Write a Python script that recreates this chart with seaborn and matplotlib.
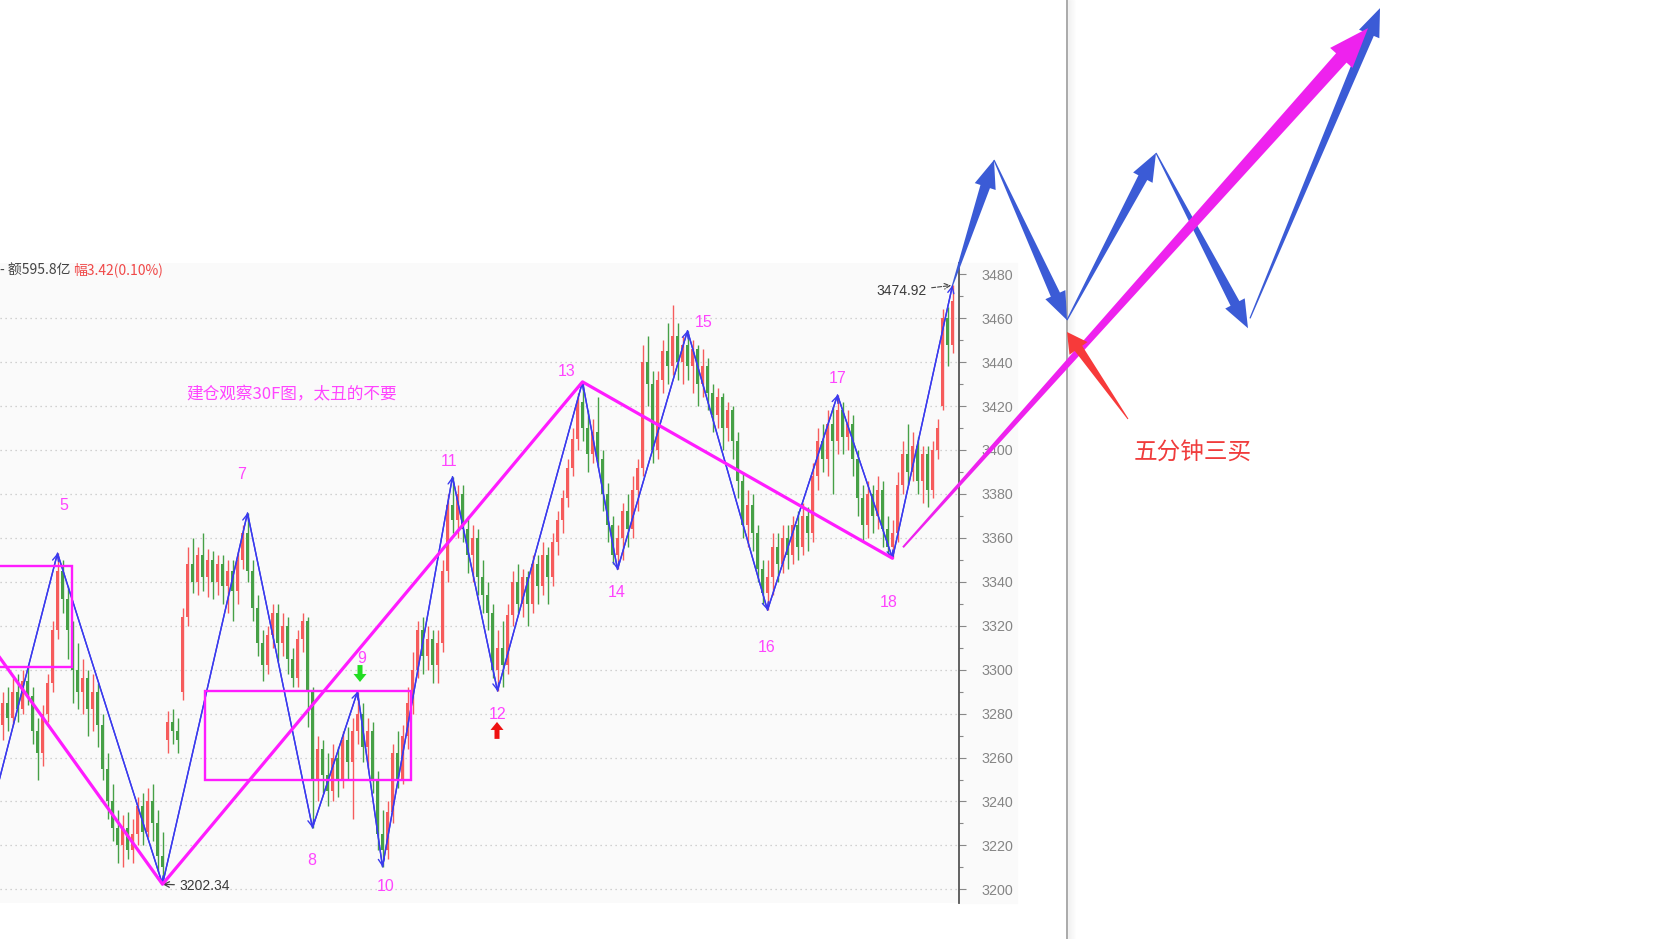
import numpy as np
import pandas as pd
import matplotlib
matplotlib.use('Agg')
import matplotlib.pyplot as plt
import seaborn as sns
from matplotlib.patches import Polygon, Rectangle
from matplotlib.lines import Line2D
from matplotlib.transforms import IdentityTransform

# ── colours ───────────────────────────────────────────────────────────────────
RED     = '#f65c5c'
GREEN   = '#46a046'
BLUE    = '#3a3aee'
BIGBLUE = '#3b5bd6'
MAGENTA = '#ff1cff'
PINK    = '#ff44ff'
GRIDC   = '#c4c4c4'
PANEL   = '#fafafa'
CJK     = ['Noto Sans CJK SC', 'DejaVu Sans']
NUMF    = ['Liberation Sans', 'DejaVu Sans']

# ── candle data (30F bars) ────────────────────────────────────────────────────
opens = [3275, 3285, 3278, 3290, 3282, 3295, 3288, 3272, 3262, 3280, 3294, 3318,
         3345, 3332, 3318, 3300, 3290, 3296, 3282, 3290, 3275, 3255, 3240, 3228, 3220, 3228, 3218, 3225, 3238, 3226, 3240, 3230, 3215,
         3268, 3276, 3272, 3290, 3324, 3348, 3340, 3352, 3342, 3350, 3340, 3348, 3338, 3345, 3336, 3350, 3362,
         3345, 3328, 3312, 3302, 3316, 3326, 3312, 3320, 3305, 3296, 3314, 3322, 3290,
         3250, 3264, 3252, 3245, 3260, 3250, 3268, 3258, 3272, 3280, 3265, 3272, 3250, 3225,
         3218, 3235, 3262, 3250, 3270, 3285, 3300, 3318, 3306, 3314, 3302, 3312, 3345, 3375,
         3368, 3380, 3364, 3352, 3360, 3342, 3334, 3326, 3300,
         3310, 3302, 3325, 3340, 3330, 3342, 3330, 3348, 3338, 3352, 3342, 3358, 3368, 3378, 3392, 3405, 3422,
         3410, 3398, 3408, 3396, 3380, 3366, 3352,
         3360, 3372, 3364, 3382, 3392, 3440, 3430, 3400, 3432, 3445, 3438, 3452, 3440, 3448,
         3438, 3446, 3430, 3438, 3426, 3416, 3424, 3410, 3418, 3404, 3386, 3366, 3375, 3362, 3346, 3335,
         3342, 3356, 3348, 3360, 3352, 3366, 3356, 3370, 3362, 3388, 3404, 3396, 3412, 3404,
         3418, 3406, 3412, 3396, 3378, 3366, 3380, 3370, 3382, 3364, 3356,
         3362, 3384, 3398, 3390, 3402, 3386, 3398, 3382, 3400, 3420, 3460, 3448]
closes = [3285, 3278, 3290, 3282, 3295, 3288, 3272, 3262, 3280, 3294, 3318, 3345,
          3332, 3318, 3300, 3290, 3296, 3282, 3290, 3275, 3255, 3240, 3228, 3220, 3228, 3218, 3225, 3238, 3226, 3240, 3230, 3215, 3210,
          3276, 3272, 3268, 3324, 3348, 3340, 3352, 3342, 3350, 3340, 3348, 3338, 3345, 3336, 3350, 3362, 3345,
          3328, 3312, 3302, 3316, 3326, 3312, 3320, 3305, 3296, 3314, 3322, 3290, 3250,
          3264, 3252, 3245, 3260, 3250, 3268, 3258, 3272, 3280, 3265, 3272, 3250, 3225, 3218,
          3235, 3262, 3250, 3270, 3285, 3300, 3318, 3306, 3314, 3302, 3312, 3345, 3375, 3368,
          3380, 3364, 3352, 3360, 3342, 3334, 3326, 3300, 3310,
          3302, 3325, 3340, 3330, 3342, 3330, 3348, 3338, 3352, 3342, 3358, 3368, 3378, 3392, 3405, 3422, 3410,
          3398, 3408, 3396, 3380, 3366, 3352, 3360,
          3372, 3364, 3382, 3392, 3440, 3430, 3400, 3432, 3445, 3438, 3452, 3440, 3448, 3438,
          3446, 3430, 3438, 3426, 3416, 3424, 3410, 3418, 3404, 3386, 3366, 3375, 3362, 3346, 3335, 3342,
          3356, 3348, 3360, 3352, 3366, 3356, 3370, 3362, 3388, 3404, 3396, 3412, 3404, 3418,
          3406, 3412, 3396, 3378, 3366, 3380, 3370, 3382, 3364, 3356, 3362,
          3384, 3398, 3390, 3402, 3386, 3398, 3382, 3400, 3410, 3460, 3448, 3468]
highs = [3290, 3292, 3296, 3298, 3300, 3302, 3292, 3278, 3284, 3298, 3322, 3353,
         3350, 3338, 3322, 3312, 3305, 3300, 3298, 3294, 3280, 3262, 3248, 3236, 3234, 3235, 3232, 3242, 3244, 3246, 3248, 3236, 3226,
         3281, 3282, 3278, 3328, 3356, 3360, 3356, 3362, 3355, 3354, 3352, 3352, 3350, 3350, 3354, 3366, 3371.3,
         3350, 3334, 3318, 3320, 3330, 3330, 3326, 3324, 3310, 3318, 3326, 3324, 3292,
         3270, 3268, 3262, 3266, 3265, 3272, 3274, 3278, 3290, 3285, 3278, 3276, 3254, 3236,
         3240, 3266, 3272, 3275, 3292, 3308, 3322, 3324, 3320, 3318, 3318, 3350, 3380, 3387.8,
         3384, 3384, 3370, 3366, 3364, 3350, 3340, 3330, 3318,
         3322, 3330, 3345, 3348, 3346, 3345, 3352, 3352, 3358, 3356, 3362, 3372, 3382, 3396, 3410, 3426, 3431,
         3418, 3414, 3424, 3400, 3385, 3370, 3366,
         3376, 3380, 3388, 3396, 3448, 3452, 3436, 3436, 3450, 3458, 3466, 3458, 3452, 3454.3,
         3450, 3448, 3446, 3442, 3430, 3428, 3426, 3422, 3420, 3408, 3390, 3382, 3380, 3366, 3350, 3350,
         3362, 3362, 3366, 3366, 3370, 3372, 3376, 3374, 3394, 3410, 3412, 3418, 3420, 3425,
         3422, 3418, 3416, 3400, 3384, 3386, 3384, 3388, 3386, 3370, 3368,
         3390, 3404, 3412, 3408, 3406, 3402, 3402, 3404, 3414, 3464, 3465, 3474.92]
lows = [3268, 3272, 3275, 3276, 3280, 3284, 3266, 3250, 3256, 3276, 3290, 3314,
        3326, 3305, 3285, 3282, 3280, 3270, 3272, 3265, 3250, 3232, 3222, 3212, 3210, 3214, 3212, 3220, 3220, 3224, 3222, 3208, 3202.34,
        3262, 3266, 3262, 3286, 3320, 3335, 3334, 3336, 3333, 3332, 3334, 3330, 3326, 3322, 3330, 3346, 3340,
        3322, 3306, 3295, 3298, 3310, 3304, 3306, 3298, 3292, 3292, 3308, 3274, 3228,
        3240, 3244, 3238, 3240, 3242, 3246, 3250, 3232, 3266, 3258, 3255, 3244, 3218, 3210.3,
        3214, 3230, 3246, 3248, 3264, 3280, 3296, 3298, 3300, 3294, 3294, 3308, 3340, 3362,
        3360, 3358, 3344, 3340, 3334, 3326, 3318, 3296, 3290.3,
        3292, 3298, 3320, 3326, 3324, 3320, 3326, 3330, 3334, 3330, 3338, 3352, 3362, 3374, 3388, 3400, 3404,
        3390, 3394, 3392, 3372, 3358, 3348, 3345.6,
        3350, 3356, 3360, 3372, 3388, 3420, 3394, 3396, 3426, 3430, 3434, 3432, 3430, 3432,
        3426, 3420, 3424, 3418, 3408, 3410, 3400, 3404, 3396, 3378, 3360, 3356, 3354, 3340, 3330, 3327.1,
        3334, 3340, 3344, 3346, 3348, 3350, 3352, 3354, 3358, 3382, 3390, 3388, 3380, 3398,
        3398, 3400, 3388, 3370, 3358, 3360, 3362, 3364, 3356, 3352, 3350.7,
        3358, 3380, 3384, 3386, 3380, 3376, 3374, 3378, 3396, 3418, 3438, 3444]

# ── drawn analysis (bar index, price) ─────────────────────────────────────────
zz_idx   = [-3, 11, 32, 49, 62, 71, 76, 90, 99, 116, 123, 137, 153, 167, 178, 190]
zz_price = [3229, 3353, 3202.34, 3371.3, 3228, 3290, 3210.3, 3387.8, 3290.3,
            3431, 3345.6, 3454.3, 3327.1, 3425, 3350.7, 3474.92]
trend_idx   = [-5, 32, 116, 178]
trend_price = [3319.6, 3202.34, 3431, 3350.7]
boxes = [(-5, 13.9, 3301, 3347), (40.5, 81.6, 3250, 3290.4)]   # x0, x1, y0, y1

label_text  = ['5', '7', '8', '9', '10', '11', '12', '13', '14', '15', '16', '17', '18']
label_idx   = [12.3, 47.9, 61.9, 71.9, 76.7, 89.3, 99.1, 112.9, 122.9, 140.3, 152.9, 167.1, 177.3]
label_price = [3374.9, 3389, 3213.3, 3305.3, 3201.1, 3394.9, 3279.4, 3435.9, 3334.9,
               3457.8, 3310.3, 3432.7, 3330.8]

# projected moves to the right of the chart: (tail_idx, tail_price, tip_idx, tip_price)
blue_moves = [(190, 3474.92, 198.3, 3532.0),
              (198.3, 3532.0, 212.9, 3459.1),
              (212.9, 3459.1, 230.7, 3535.2),
              (230.7, 3535.2, 249.1, 3455.4),
              (249.5, 3459.9, 275.5, 3601.1)]
magenta_move = (180.1, 3355.7, 273.1, 3592.0)
red_pointer  = (225.1, 3414.1, 212.9, 3453.7)
divider_idx  = 212.9

grid_levels = list(range(3200, 3461, 20))
major_ticks = list(range(3200, 3481, 20))
minor_ticks = list(range(3210, 3481, 20))

# ── figure ────────────────────────────────────────────────────────────────────
sns.set_style('white')
plt.rcParams['font.family'] = CJK

W, H = 1673, 939
fig = plt.figure(figsize=(W / 100, H / 100), dpi=100)
fig.patch.set_facecolor('white')
ax = fig.add_axes([0, 36 / H, 959 / W, 640 / H])
ax.set_xlim(-0.5, 191.3)
ax.set_ylim(3193.8, 3485.1)
ax.set_facecolor(PANEL)
fig.add_artist(Rectangle((959 / W, 36 / H), 58 / W, 640 / H, transform=fig.transFigure,
                         color=PANEL, zorder=-1))

for s in ['left', 'top', 'bottom']:
    ax.spines[s].set_visible(False)
ax.spines['right'].set_color('#555555')
ax.spines['right'].set_linewidth(1.3)
ax.set_xticks([])
ax.yaxis.tick_right()
ax.set_yticks(major_ticks)
ax.set_yticks(minor_ticks, minor=True)
ax.tick_params(axis='y', which='major', length=5, width=0.8, color='#888888',
               labelcolor='#858585', labelsize=10.3, pad=11, right=True, left=False)
ax.tick_params(axis='y', which='minor', length=3, width=0.8, color='#888888', right=True, left=False)
for t in ax.get_yticklabels():
    t.set_family(NUMF)

ax.hlines(grid_levels, -0.5, 191.3, colors=GRIDC, linestyles=(0, (1, 3)), lw=0.9, zorder=1)

# candles
df = pd.DataFrame({'o': opens, 'h': highs, 'l': lows, 'c': closes})
df['i'] = np.arange(len(df))
cols = np.where(df.c >= df.o, RED, GREEN)
ax.vlines(df.i, df.l, df.h, colors=cols, lw=1.0, zorder=2)
ax.bar(df.i, (df.c - df.o).abs(), bottom=np.minimum(df.o, df.c), width=0.55,
       color=cols, linewidth=0, zorder=2)

# stroke zigzag
sns.lineplot(x=zz_idx, y=zz_price, sort=False, estimator=None, color=BLUE, lw=1.0,
             ax=ax, zorder=3)
for k in range(1, len(zz_idx)):
    ax.annotate('', xy=(zz_idx[k], zz_price[k]), xytext=(zz_idx[k - 1], zz_price[k - 1]),
                arrowprops=dict(arrowstyle='->,head_length=0.45,head_width=0.22', color=BLUE,
                                lw=1.0, shrinkA=0, shrinkB=0), zorder=3)

# segment lines + centre boxes
sns.lineplot(x=trend_idx, y=trend_price, sort=False, estimator=None, color=MAGENTA, lw=2.3,
             ax=ax, zorder=4)
for x0, x1, y0, y1 in boxes:
    ax.add_patch(Rectangle((x0, y0), x1 - x0, y1 - y0, fill=False, ec=MAGENTA, lw=1.7, zorder=4))

for t, xi, yp in zip(label_text, label_idx, label_price):
    ax.text(xi, yp, t, color=PINK, fontsize=11.5, family=NUMF, ha='center', va='center', zorder=5)

ax.text(57.9, 3425, '建仓观察30F图，太丑的不要', color=PINK, fontsize=12, ha='center', va='center')
ax.text(0, 0.989, '- 额595.8亿', transform=ax.transAxes, color='#444444', fontsize=10,
        ha='left', va='center')
ax.text(73 / 959, 0.989, '幅3.42(0.10%)', transform=ax.transAxes, color='#f04848', fontsize=10,
        ha='left', va='center')
ax.annotate('3202.34', xy=(32, 3202.34), xytext=(35.3, 3201.6), ha='left', va='center',
            color='#3a3a3a', fontsize=10, family=NUMF,
            arrowprops=dict(arrowstyle='->', color='#444444', lw=0.9, shrinkA=1, shrinkB=0))
ax.annotate('3474.92', xy=(190, 3474.92), xytext=(184.9, 3472.3), ha='right', va='center',
            color='#3a3a3a', fontsize=10, family=NUMF,
            arrowprops=dict(arrowstyle='->', ls='--', color='#444444', lw=0.8, shrinkA=1, shrinkB=1))


def taper(p0, p1, w0, w1, hl, hw, color, z=6):
    a = np.array(ax.transData.transform(p0))
    b = np.array(ax.transData.transform(p1))
    u = (b - a) / np.hypot(*(b - a))
    n = np.array([-u[1], u[0]])
    base = b - u * hl
    pts = [a + n * w0 / 2, base + n * w1 / 2, base + n * hw / 2, b,
           base - n * hw / 2, base - n * w1 / 2, a - n * w0 / 2]
    fig.add_artist(Polygon(pts, closed=True, transform=IdentityTransform(), color=color,
                           lw=0, zorder=z))


# small buy/sell marks
taper((71.5, 3302.1), (71.5, 3294.4), 5, 5, 8, 13, '#22dd22')
taper((98.9, 3268.5), (98.9, 3276.2), 5, 5, 8, 13, '#ee1111')

# divider of the screenshot with soft shadow
xd = ax.transData.transform((divider_idx, 3300))[0]
for k in range(1, 9):
    fig.add_artist(Line2D([xd + k, xd + k], [0, H], transform=IdentityTransform(),
                          color='black', alpha=0.045 * (1 - k / 9), lw=1, zorder=5))
fig.add_artist(Line2D([xd, xd], [0, H], transform=IdentityTransform(), color='#a4a4a4',
                      lw=1.3, zorder=5))

# projected path
for tx, ty, hx, hy in blue_moves:
    taper((tx, ty), (hx, hy), 1.2, 10, 28, 22, BIGBLUE)
taper(magenta_move[:2], magenta_move[2:], 2, 14, 40, 30, '#ee22ee', z=7)
taper(red_pointer[:2], red_pointer[2:], 1, 9, 20, 22, '#f73a3a', z=7)
ax.text(238.1, 3399, '五分钟三买', color='#f03c3c', fontsize=17, ha='center', va='center')

fig.savefig('out.png', dpi=100, facecolor='white')
